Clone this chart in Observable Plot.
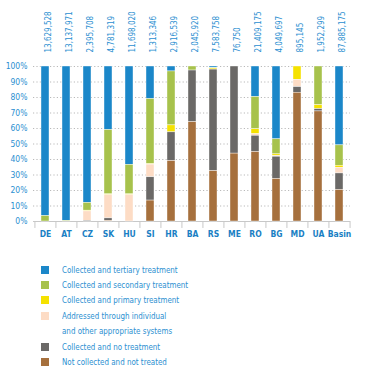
<!DOCTYPE html>
<html>
<head>
<meta charset="utf-8">
<script src="https://cdn.jsdelivr.net/npm/d3@7"></script>
<script src="https://cdn.jsdelivr.net/npm/@observablehq/plot@0.6"></script>
<style>
  html, body { margin: 0; padding: 0; background: #fff; }
  body { width: 367px; height: 376px; overflow: hidden; font-family: "DejaVu Sans Condensed", "DejaVu Sans", sans-serif; font-stretch: condensed; }
  svg text { font-stretch: condensed; }
  #legend { margin-top: 17px; margin-left: 41px; }
  .row { display: flex; align-items: center; height: 15.4px; font-size: 9px; color: #2b8fd1; }
  .row span { display: inline-block; transform: scaleX(0.88); transform-origin: left center; white-space: nowrap; }
  .sw { width: 8px; height: 8px; margin-right: 13px; flex: none; }
  .sw.blank { background: transparent; }
</style>
</head>
<body>
<div id="chart"></div>
<div id="legend"></div>
<script>
const categories = ["DE","AT","CZ","SK","HU","SI","HR","BA","RS","ME","RO","BG","MD","UA","Basin"];
const populations = ["13,629,528","13,137,971","2,395,708","4,781,319","11,698,020","1,313,346","2,916,539","2,045,920","7,583,758","76,750","21,409,175","4,049,697","895,145","1,952,299","87,885,175"];

const seriesNames = [
  "Collected and tertiary treatment",
  "Collected and secondary treatment",
  "Collected and primary treatment",
  "Addressed through individual and other appropriate systems",
  "Collected and no treatment",
  "Not collected and not treated"
];
const seriesColors = ["#1b87c9", "#a7c24c", "#f5e200", "#fddcc5", "#6b6967", "#a6703d"];

// percentages per country
const tertiary     = [96.5, 99.5, 88.0, 41.0, 63.5, 21.0,  3.2,  0.0,  1.0,  0.0, 19.7, 47.0,  0.0,  0.0, 50.9];
const secondary    = [ 3.5,  0.5,  5.0, 41.5, 19.0, 42.0, 34.8,  2.6,  0.3,  0.0, 20.8,  9.7,  0.0, 25.0, 13.1];
const primary      = [ 0.0,  0.0,  0.5,  0.5,  0.5,  0.3,  4.5,  0.0,  0.7,  0.0,  3.2,  1.0,  8.6,  2.5,  1.3];
const individual   = [ 0.0,  0.0,  6.0, 15.0, 17.0,  8.2,  0.0,  0.0,  0.0,  0.0,  1.0,  0.5,  4.7,  0.0,  3.7];
const noTreatment  = [ 0.0,  0.0,  0.5,  1.5,  0.0, 15.0, 18.5, 33.3, 65.5, 56.2, 10.5, 14.4,  3.6,  1.5, 10.7];
const notCollected = [ 0.0,  0.0,  0.0,  0.5,  0.0, 13.5, 39.0, 64.1, 32.5, 43.8, 44.8, 27.4, 83.1, 71.0, 20.3];

const seriesValues = [tertiary, secondary, primary, individual, noTreatment, notCollected];

const rows = [];
seriesNames.forEach((name, s) => {
  categories.forEach((c, i) => {
    rows.push({country: c, type: name, value: seriesValues[s][i]});
  });
});

const W = 367, ML = 33, MR = 17;
const step = (W - ML - MR) / categories.length;
const textBlue = "#2b8fd1";
const pctTicks = d3.range(0, 11).map(d => d / 10);

const plot = Plot.plot({
  width: W,
  height: 245,
  marginTop: 66,
  marginBottom: 24,
  marginLeft: ML,
  marginRight: MR,
  style: {fontFamily: "'DejaVu Sans Condensed', 'DejaVu Sans', sans-serif", background: "#fff"},
  x: {domain: categories, paddingInner: 0.62, paddingOuter: 0.31, label: null},
  y: {domain: [0, 1], label: null},
  color: {domain: seriesNames, range: seriesColors},
  marks: [
    Plot.gridY(pctTicks.slice(1), {stroke: "#b9b9b9", strokeOpacity: 1, strokeDasharray: "1.2,2.2", strokeWidth: 1}),
    Plot.ruleY([0], {stroke: "#c8c8c8", strokeWidth: 1}),
    Plot.ruleX(categories, {x: d => d, y1: 0, y2: -0.045, dx: -step / 2, stroke: "#c8c8c8"}),
    Plot.ruleX(categories.slice(-1), {x: d => d, y1: 0, y2: -0.045, dx: step / 2, stroke: "#c8c8c8"}),
    Plot.barY(rows, {
      x: "country", y: "value", fill: "type",
      order: seriesNames.slice().reverse(),
      offset: "normalize",
      stroke: "#ffffff", strokeWidth: 0.4
    }),
    Plot.axisY({ticks: pctTicks, tickFormat: d3.format(".0%"), tickSize: 0, tickPadding: 6, fill: textBlue, fontSize: 8.5, label: null}),
    Plot.axisX({tickSize: 0, tickPadding: 9, fill: "#1a7fc4", fontSize: 8.5, fontWeight: "bold", label: null}),
    Plot.text(categories, {
      x: d => d, text: (d, i) => populations[i],
      frameAnchor: "top", dy: -14, rotate: -90, textAnchor: "start",
      fill: textBlue, fontSize: 8
    })
  ]
});
document.getElementById("chart").appendChild(plot);

const legend = document.getElementById("legend");
const legendLines = [
  ["Collected and tertiary treatment", 0],
  ["Collected and secondary treatment", 1],
  ["Collected and primary treatment", 2],
  ["Addressed through individual", 3],
  ["and other appropriate systems", -1],
  ["Collected and no treatment", 4],
  ["Not collected and not treated", 5]
];
legendLines.forEach(([label, idx]) => {
  const row = document.createElement("div");
  row.className = "row";
  const sw = document.createElement("div");
  sw.className = "sw" + (idx < 0 ? " blank" : "");
  if (idx >= 0) sw.style.background = seriesColors[idx];
  const t = document.createElement("span");
  t.textContent = label;
  row.appendChild(sw);
  row.appendChild(t);
  legend.appendChild(row);
});
</script>
</body>
</html>
